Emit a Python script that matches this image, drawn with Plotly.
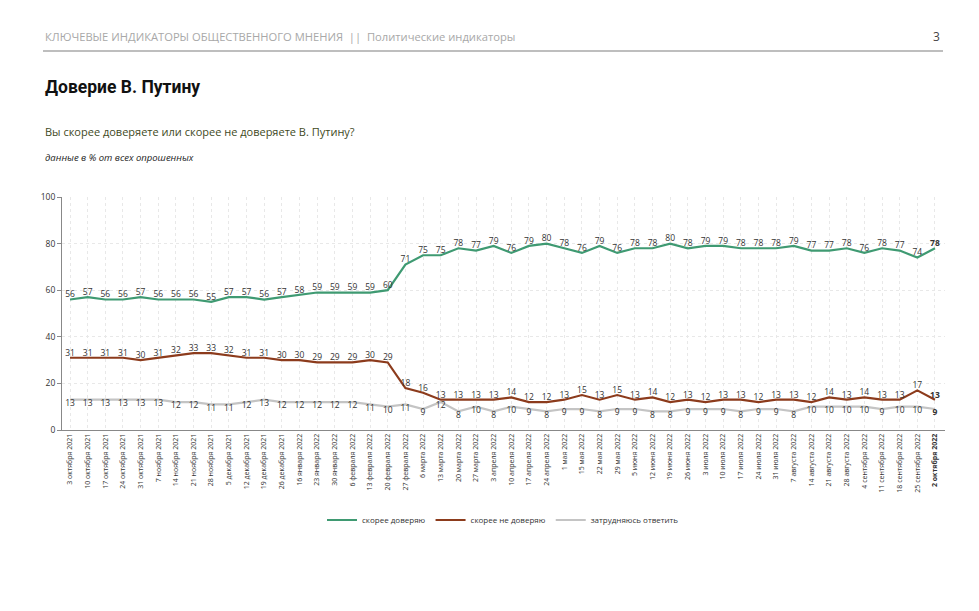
import plotly.graph_objects as go

dates = [
    "3 октября 2021", "10 октября 2021", "17 октября 2021", "24 октября 2021", "31 октября 2021",
    "7 ноября 2021", "14 ноября 2021", "21 ноября 2021", "28 ноября 2021",
    "5 декабря 2021", "12 декабря 2021", "19 декабря 2021", "26 декабря 2021",
    "16 января 2022", "23 января 2022", "30 января 2022",
    "6 февраля 2022", "13 февраля 2022", "20 февраля 2022", "27 февраля 2022",
    "6 марта 2022", "13 марта 2022", "20 марта 2022", "27 марта 2022",
    "3 апреля 2022", "10 апреля 2022", "17 апреля 2022", "24 апреля 2022",
    "1 мая 2022", "15 мая 2022", "22 мая 2022", "29 мая 2022",
    "5 июня 2022", "12 июня 2022", "19 июня 2022", "26 июня 2022",
    "3 июля 2022", "10 июля 2022", "17 июля 2022", "24 июля 2022", "31 июля 2022",
    "7 августа 2022", "14 августа 2022", "21 августа 2022", "28 августа 2022",
    "4 сентября 2022", "11 сентября 2022", "18 сентября 2022", "25 сентября 2022",
    "2 октября 2022",
]

trust = [56, 57, 56, 56, 57, 56, 56, 56, 55, 57, 57, 56, 57, 58, 59, 59, 59, 59, 60, 71,
         75, 75, 78, 77, 79, 76, 79, 80, 78, 76, 79, 76, 78, 78, 80, 78, 79, 79, 78, 78,
         78, 79, 77, 77, 78, 76, 78, 77, 74, 78]
distrust = [31, 31, 31, 31, 30, 31, 32, 33, 33, 32, 31, 31, 30, 30, 29, 29, 29, 30, 29, 18,
            16, 13, 13, 13, 13, 14, 12, 12, 13, 15, 13, 15, 13, 14, 12, 13, 12, 13, 13, 12,
            13, 13, 12, 14, 13, 14, 13, 13, 17, 13]
hard = [13, 13, 13, 13, 13, 13, 12, 12, 11, 11, 12, 13, 12, 12, 12, 12, 12, 11, 10, 11,
        9, 12, 8, 10, 8, 10, 9, 8, 9, 9, 8, 9, 9, 8, 8, 9, 9, 9, 8, 9,
        9, 8, 10, 10, 10, 10, 9, 10, 10, 9]

series_names = ["скорее доверяю", "скорее не доверяю", "затрудняюсь ответить"]
y_ticks = [0, 20, 40, 60, 80, 100]

colors = ["#3f9a72", "#8c3b1c", "#c4c4c4"]
FONT = "Open Sans"

# The page body has an 8px default margin; work in window pixels and shift.
OFF = 8
W, H = 979 - 2 * OFF, 611 - 2 * OFF
L, R, T, B = 62 - OFF, 945 - OFF, 197 - OFF, 430 - OFF


def py(px):
    return (B - (px - OFF)) / (B - T)


def pxx(px):
    return ((px - OFF) - L) / (R - L)


def lab(vals):
    out = [str(v) for v in vals]
    out[-1] = "<b>" + out[-1] + "</b>"
    return out


ticktext = list(dates)
ticktext[-1] = "<b>" + ticktext[-1] + "</b>"

fig = go.Figure()
for vals, name, col, pos in zip([trust, distrust, hard], series_names, colors,
                                ["top center", "top center", "bottom center"]):
    fig.add_trace(go.Scatter(
        x=dates, y=vals, name=name, mode="lines+text",
        line=dict(color=col, width=2.2),
        text=lab(vals), textposition=pos,
        textfont=dict(family=FONT, size=8.5, color="#333333"),
        cliponaxis=False,
    ))

fig.update_layout(
    width=W, height=H,
    margin=dict(l=L, r=W - R, t=T, b=H - B),
    paper_bgcolor="white", plot_bgcolor="white",
    font=dict(family=FONT, color="#333333"),
    showlegend=True,
    legend=dict(orientation="h", x=pxx(503), y=py(520), xanchor="center", yanchor="middle",
                font=dict(family=FONT, size=8, color="#333333"),
                itemwidth=30, tracegroupgap=0),
    xaxis=dict(
        type="category", range=[-0.453, 49.567],
        tickmode="array", tickvals=dates, ticktext=ticktext,
        tickangle=-90, tickfont=dict(family=FONT, size=7, color="#333333"),
        showline=True, linecolor="#888888", linewidth=1,
        showgrid=True, gridcolor="#e8e8e8", griddash="dot", gridwidth=1,
        ticks="", zeroline=False,
    ),
    yaxis=dict(
        range=[0, 100], tickvals=y_ticks,
        tickfont=dict(family=FONT, size=8.5, color="#333333"),
        showline=True, linecolor="#888888", linewidth=1,
        ticks="outside", ticklen=4, tickcolor="#888888",
        showgrid=True, gridcolor="#e8e8e8", griddash="dot",
        zeroline=False,
    ),
)

# header line
fig.add_shape(type="line", xref="paper", yref="paper",
              x0=pxx(43), x1=pxx(943), y0=py(51), y1=py(51),
              line=dict(color="#a8a8a8", width=1.3))

fig.add_annotation(xref="paper", yref="paper", x=pxx(43), y=py(36), xanchor="left", yanchor="middle",
                   text="КЛЮЧЕВЫЕ ИНДИКАТОРЫ ОБЩЕСТВЕННОГО МНЕНИЯ  ||  Политические индикаторы",
                   showarrow=False, font=dict(family=FONT, size=11.2, color="#a8a8a8"))
fig.add_annotation(xref="paper", yref="paper", x=pxx(942), y=py(36), xanchor="right", yanchor="middle",
                   text="3", showarrow=False, font=dict(family=FONT, size=12, color="#444444"))
fig.add_annotation(xref="paper", yref="paper", x=pxx(43), y=py(87), xanchor="left", yanchor="middle",
                   text="<b>Доверие В. Путину</b>", showarrow=False,
                   font=dict(family="Roboto", size=17.5, color="#111111"))
fig.add_annotation(xref="paper", yref="paper", x=pxx(43), y=py(131), xanchor="left", yanchor="middle",
                   text="Вы скорее доверяете или скорее не доверяете В. Путину?", showarrow=False,
                   font=dict(family=FONT, size=11, color="#3f4a24"))
fig.add_annotation(xref="paper", yref="paper", x=pxx(43), y=py(157), xanchor="left", yanchor="middle",
                   text="<i>данные в % от всех опрошенных</i>", showarrow=False,
                   font=dict(family=FONT, size=9.5, color="#222222"))

fig.write_html("out.html")
